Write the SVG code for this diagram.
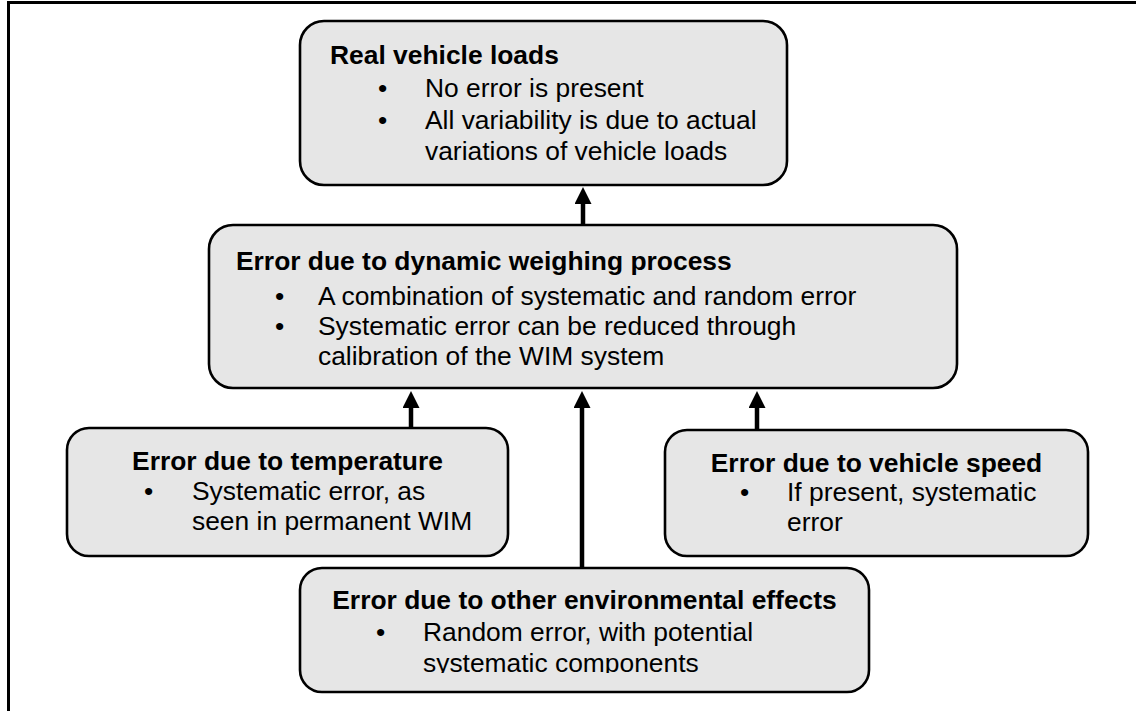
<svg xmlns="http://www.w3.org/2000/svg" width="1136" height="711" viewBox="0 0 1136 711">
<style>
.box{fill:#e6e6e6;stroke:#000;stroke-width:2.6}
.t{font-family:"Liberation Sans",Arial,sans-serif;font-size:26.4px;font-weight:bold;fill:#000}
.m{text-anchor:middle}
.b{font-family:"Liberation Sans",Arial,sans-serif;font-size:26.4px;fill:#000}
.c{stroke:#000;stroke-width:4.5;fill:none;marker-end:url(#ah)}
</style>
<defs>
<marker id="ah" markerUnits="userSpaceOnUse" markerWidth="17" markerHeight="17" viewBox="0 0 17 17" refX="0" refY="8.5" orient="auto">
<path d="M0,0 L17,8.5 L0,17 Z" fill="#000"/>
</marker>
<clipPath id="clipb"><rect x="300" y="560" width="570" height="113"/></clipPath>
</defs>
<rect width="1136" height="711" fill="#fff"/>
<path d="M8.5,711 V2.5 H1136" fill="none" stroke="#000" stroke-width="3"/>
<g id="connectors">
<line class="c" x1="583" y1="225" x2="583" y2="204"/>
<line class="c" x1="582" y1="568" x2="582" y2="408"/>
<line class="c" x1="411" y1="428" x2="411" y2="408"/>
<line class="c" x1="757" y1="430" x2="757" y2="408"/>
</g>
<g id="real">
<rect class="box" x="300" y="21" width="487" height="164" rx="24"/>
<text class="t" x="330" y="64">Real vehicle loads</text>
<text class="b" x="378" y="97">•</text><text class="b" x="425" y="97">No error is present</text>
<text class="b" x="378" y="129">•</text><text class="b" x="425" y="129">All variability is due to actual</text>
<text class="b" x="425" y="160">variations of vehicle loads</text>
</g>
<g id="dynamic">
<rect class="box" x="209" y="225" width="748" height="163" rx="24"/>
<text class="t" x="236" y="270">Error due to dynamic weighing process</text>
<text class="b" x="275" y="305">•</text><text class="b" x="318" y="305">A combination of systematic and random error</text>
<text class="b" x="275" y="335">•</text><text class="b" x="318" y="335">Systematic error can be reduced through</text>
<text class="b" x="318" y="365">calibration of the WIM system</text>
</g>
<g id="temperature">
<rect class="box" x="67" y="428" width="441" height="128" rx="22"/>
<text class="t m" x="287.5" y="470">Error due to temperature</text>
<text class="b" x="144" y="500">•</text><text class="b" x="192" y="500">Systematic error, as</text>
<text class="b" x="192" y="530">seen in permanent WIM</text>
</g>
<g id="speed">
<rect class="box" x="665" y="430" width="423" height="126" rx="22"/>
<text class="t m" x="876.5" y="472">Error due to vehicle speed</text>
<text class="b" x="740" y="501">•</text><text class="b" x="787" y="501">If present, systematic</text>
<text class="b" x="787" y="531">error</text>
</g>
<g id="environment">
<rect class="box" x="300" y="568" width="569" height="124" rx="22"/>
<text class="t m" x="584.5" y="609">Error due to other environmental effects</text>
<text class="b" x="376" y="641">•</text><text class="b" x="423" y="641">Random error, with potential</text>
<text class="b" x="423" y="672" clip-path="url(#clipb)">systematic components</text>
</g>
</svg>
